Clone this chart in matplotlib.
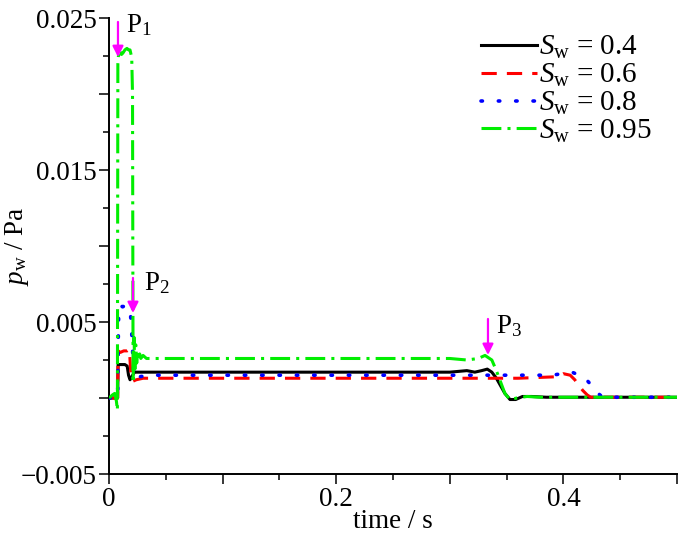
import matplotlib
matplotlib.use("Agg")
import matplotlib.pyplot as plt
from matplotlib.ticker import FixedLocator, FixedFormatter

plt.rcParams['font.family'] = ['Liberation Serif', 'DejaVu Serif']
plt.rcParams['mathtext.fontset'] = 'custom'
plt.rcParams['mathtext.rm'] = 'Liberation Serif'
plt.rcParams['mathtext.it'] = 'Liberation Serif:italic'

# ---------------- data ----------------
series_labels = [r'$S_{\mathrm{w}}$ = 0.4', r'$S_{\mathrm{w}}$ = 0.6',
                 r'$S_{\mathrm{w}}$ = 0.8', r'$S_{\mathrm{w}}$ = 0.95']

t_04 = [0, 0.0076, 0.0080, 0.0100, 0.0140, 0.0160, 0.0172, 0.0185, 0.0200, 0.0225,
        0.030, 0.06, 0.10, 0.15, 0.20, 0.25, 0.30, 0.315, 0.322, 0.328, 0.333,
        0.337, 0.341, 0.344, 0.3485, 0.353, 0.358, 0.364, 0.372, 0.385, 0.40, 0.45, 0.50]
p_04 = [0, 0, 0.0022, 0.0022, 0.0022, 0.0021, 0.0015, 0.0012, 0.0014, 0.0017,
        0.0017, 0.0017, 0.0017, 0.0017, 0.0017, 0.0017, 0.0017, 0.0018, 0.0017, 0.0018, 0.0019,
        0.0017, 0.0013, 0.0009, 0.0003, -0.0001, -0.0001, 0.0001, 0.0001, 0.00005, 0.00005, 0.00005, 0.00005]

t_06 = [0, 0.0076, 0.0080, 0.0100, 0.0130, 0.0160, 0.0180, 0.0188, 0.0196, 0.0210,
        0.0240, 0.030, 0.10, 0.20, 0.30, 0.36, 0.395, 0.400, 0.406, 0.410,
        0.413, 0.417, 0.421, 0.424, 0.43, 0.45, 0.50]
p_06 = [0, 0, 0.0031, 0.0030, 0.0031, 0.0031, 0.0032, 0.0021, 0.0012, 0.0011,
        0.0012, 0.0013, 0.0013, 0.0013, 0.0013, 0.0013, 0.0014, 0.0016, 0.0015, 0.0012,
        0.0009, 0.0005, 0.0002, 0.00005, 0.00005, 0.00005, 0.00005]

t_08 = [0, 0.0076, 0.0080, 0.0085, 0.0095, 0.0120, 0.0150, 0.0170, 0.0185, 0.0195,
        0.0205, 0.0215, 0.0225, 0.0240, 0.0270, 0.035, 0.10, 0.20, 0.30, 0.39,
        0.4075, 0.414, 0.419, 0.424, 0.428, 0.432, 0.436, 0.45, 0.50]
p_08 = [0, 0, 0.0030, 0.0055, 0.0061, 0.0060, 0.0061, 0.0059, 0.0058, 0.0050,
        0.0035, 0.0020, 0.0013, 0.0012, 0.0014, 0.0015, 0.0015, 0.0015, 0.0015, 0.0015,
        0.0017, 0.0015, 0.0013, 0.0009, 0.0006, 0.0002, 0.00005, 0.00005, 0.00005]

t_095 = [0, 0.003, 0.005, 0.0065, 0.0074, 0.0078, 0.0083, 0.0097, 0.0110, 0.0123,
         0.0140, 0.0158, 0.0172, 0.0185, 0.0200, 0.0207, 0.0212, 0.0220, 0.0228, 0.0236,
         0.0244, 0.0252, 0.0260, 0.0270, 0.0280, 0.0300, 0.0330, 0.037, 0.045, 0.06,
         0.10, 0.15, 0.20, 0.25, 0.30, 0.315, 0.325, 0.331, 0.337, 0.341,
         0.344, 0.3485, 0.353, 0.359, 0.368, 0.38, 0.40, 0.45, 0.50]
p_095 = [0, 0.0002, 0.0003, -0.0002, -0.0008, 0.0220, 0.0225, 0.0229, 0.0226, 0.0227,
         0.0229, 0.0230, 0.0229, 0.0229, 0.0224, 0.0200, 0.0010, 0.0040, 0.0019, 0.0035,
         0.0023, 0.0031, 0.0025, 0.0029, 0.0026, 0.0028, 0.0026, 0.0026, 0.0026, 0.0026,
         0.0026, 0.0026, 0.0026, 0.0026, 0.0026, 0.0025, 0.0026, 0.0028, 0.0025, 0.0018,
         0.0012, 0.0003, -0.0001, 0.0, 0.0001, 0.00005, 0.00005, 0.00005, 0.00005]

x_ticks = [0, 0.1, 0.2, 0.3, 0.4, 0.5]
x_tick_labels = ['0', '', '0.2', '', '0.4', '']
y_ticks = [-0.005, 0.0, 0.005, 0.01, 0.015, 0.02, 0.025]
y_tick_labels = ['\u22120.005', '', '0.005', '', '0.015', '', '0.025']

# annotations: (label, x, y_start, y_end)
ann_labels = ['P$_1$', 'P$_2$', 'P$_3$']
ann_x = [0.0079, 0.0211, 0.3336]
ann_y0 = [0.02474, 0.0079, 0.0052]
ann_y1 = [0.02243, 0.00559, 0.00283]

# ---------------- figure ----------------
fig = plt.figure(figsize=(7.0, 5.45), dpi=100)
ax = fig.add_axes([109 / 700, 1 - 474 / 545, 568 / 700, 456 / 545])

lw = 2.2
ax.plot(t_04, p_04, color='black', lw=lw, ls='-', label=series_labels[0], zorder=3)
ax.plot(t_06, p_06, color='#ff0000', lw=lw, ls=(0, (5, 3.3)), label=series_labels[1], zorder=4)
ax.plot(t_08, p_08, color='#0000ff', lw=2.6, ls=(0, (0.4, 4.4)), dash_capstyle='round',
        label=series_labels[2], zorder=5)
ax.plot(t_095, p_095, color='#00ee00', lw=lw, ls=(0, (6.5, 2, 1, 2)), label=series_labels[3], zorder=6)

for lab, xa, y0, y1 in zip(ann_labels, ann_x, ann_y0, ann_y1):
    ax.annotate('', xy=(xa, y1), xytext=(xa, y0),
                arrowprops=dict(arrowstyle='-|>', color='#ff00ff', lw=1.6,
                                mutation_scale=16, shrinkA=0, shrinkB=0), zorder=8)

fs = 19.5
ax.text(0.0079 + 0.0075, 0.0254, ann_labels[0], fontsize=fs, va='top', ha='left')
ax.text(0.0211 + 0.0100, 0.0084, ann_labels[1], fontsize=fs, va='top', ha='left')
ax.text(0.3336 + 0.0070, 0.0056, ann_labels[2], fontsize=fs, va='top', ha='left')

ax.set_xlim(0, 0.5)
ax.set_ylim(-0.005, 0.025)

ax.xaxis.set_major_locator(FixedLocator(x_ticks))
ax.xaxis.set_major_formatter(FixedFormatter(x_tick_labels))
ax.xaxis.set_minor_locator(FixedLocator([0.05, 0.15, 0.25, 0.35, 0.45]))
ax.yaxis.set_major_locator(FixedLocator(y_ticks))
ax.yaxis.set_major_formatter(FixedFormatter(y_tick_labels))
ax.yaxis.set_minor_locator(FixedLocator([-0.0025, 0.0025, 0.0075, 0.0125, 0.0175, 0.0225]))

ax.tick_params(which='major', direction='out', length=7, width=1.1, labelsize=fs, pad=2)
ax.tick_params(which='minor', direction='out', length=4, width=1.1)

for s in ['top', 'right']:
    ax.spines[s].set_visible(False)
for s in ['left', 'bottom']:
    ax.spines[s].set_linewidth(1.4)

ax.set_xlabel('time / s', fontsize=fs, labelpad=-2)
ax.set_ylabel(r'$p_{\mathrm{w}}$ / Pa', fontsize=fs)
ax.yaxis.set_label_coords(-0.137, 0.5)

leg = ax.legend(loc='upper right', bbox_to_anchor=(0.977, 0.99), frameon=False, fontsize=21,
                handlelength=1.9, handletextpad=0.1, labelspacing=0.02, borderaxespad=0.0)

fig.savefig('out.png', dpi=100)
